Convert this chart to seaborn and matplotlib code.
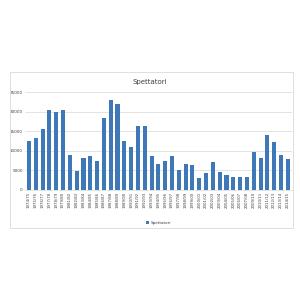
import matplotlib
matplotlib.use("Agg")
import matplotlib.pyplot as plt
import seaborn as sns
import pandas as pd
from matplotlib.patches import Rectangle

seasons = ["1974/75", "1975/76", "1976/77", "1977/78", "1978/79", "1979/80",
           "1981/82", "1982/83", "1983/84", "1984/85", "1985/86", "1986/87",
           "1987/88", "1988/89", "1989/90", "1990/91", "1991/92", "1992/93",
           "1993/94", "1994/95", "1995/96", "1996/97", "1997/98", "1998/99",
           "1999/00", "2000/01", "2001/02", "2002/03", "2003/04", "2004/05",
           "2005/06", "2006/07", "2007/08", "2009/10", "2010/11", "2011/12",
           "2012/13", "2013/14", "2014/15"]
spettatori = [12500, 13200, 15500, 20300, 19800, 20400,
              8800, 4800, 8200, 8600, 7400, 18300,
              23100, 21900, 12600, 10900, 16400, 16400,
              8700, 6500, 7300, 8700, 5000, 6500,
              6300, 3000, 4300, 7100, 4600, 3800,
              3400, 3400, 3400, 9600, 8200, 14000,
              12300, 8800, 7800]
yticks = [0, 5000, 10000, 15000, 20000, 25000]

df = pd.DataFrame({"Stagione": seasons, "Spettatori": spettatori})

sns.set_theme(style="white")
plt.rcParams['font.family'] = ['DejaVu Sans']

fig = plt.figure(figsize=(3, 3), dpi=100)
fig.patch.set_facecolor("white")

# outer chart frame
fig.patches.append(Rectangle((10/300, 1-228/300), 283/300, 156/300,
                             transform=fig.transFigure, fill=False,
                             edgecolor="#d9d9d9", linewidth=0.6))

ax = fig.add_axes([0.083, 0.367, 0.89, 0.326])
sns.barplot(data=df, x="Stagione", y="Spettatori", color="#3F78B8",
            width=0.6, saturation=1, ax=ax, label="Spettatori",
            linewidth=0)
ax.set_ylim(0, 25000)
ax.set_yticks(yticks)
ax.set_yticklabels([str(v) for v in yticks], fontsize=3, color="#404040")
ax.set_xticklabels(seasons, rotation=90, fontsize=2.8, color="#404040")
ax.tick_params(axis="both", length=0, pad=1.5)
ax.set_xlabel("")
ax.set_ylabel("")
ax.yaxis.grid(True, color="#d9d9d9", linewidth=0.5)
ax.set_axisbelow(True)
for s in ["top", "right", "left"]:
    ax.spines[s].set_visible(False)
ax.spines["bottom"].set_color("#d9d9d9")
ax.spines["bottom"].set_linewidth(0.5)
ax.set_xlim(-0.6, len(seasons) - 0.4)

fig.text(0.5, 1-82/300, "Spettatori", ha="center", va="center",
         fontsize=5, color="#404040")
leg = ax.legend(loc="center", bbox_to_anchor=(0.5, -0.34),
                fontsize=3, frameon=False, handlelength=0.8, handleheight=0.8,
                handletextpad=0.3, labelcolor="#404040")

fig.savefig("out.png", dpi=100, facecolor="white")
